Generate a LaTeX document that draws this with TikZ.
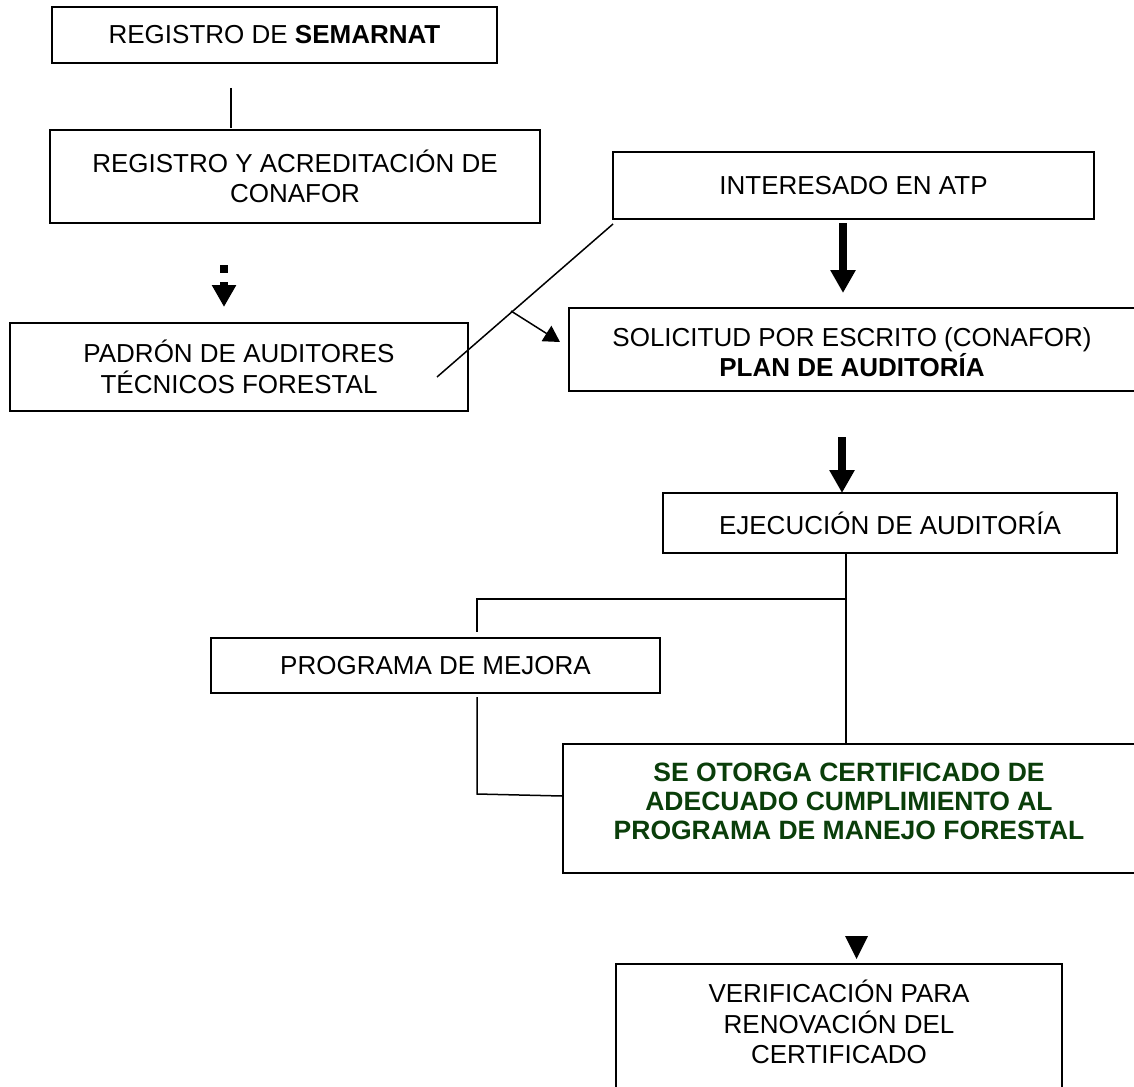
\documentclass[tikz,border=0pt]{standalone}
\usepackage{fontspec}
\setmainfont{Liberation Sans}
\usetikzlibrary{arrows.meta}
\definecolor{dkgreen}{RGB}{10,62,10}
\begin{document}
\begin{tikzpicture}[x=1pt,y=-1pt,
  box/.style={draw, line width=1.6pt, inner sep=0pt, align=center},
  txt/.style={inner sep=0pt, align=center, font=\fontsize{26}{30.5}\selectfont},
  ln/.style={line width=1.5pt},
  bigarrow/.style={line width=8.5pt, -{Triangle[width=24pt,length=23pt]}},
  dasharrow/.style={line width=8pt, dash pattern=on 8pt off 9pt, -{Triangle[width=23pt,length=22pt]}},
  tickarrow/.style={line width=1.5pt, -{Triangle[width=18pt,length=16pt]}}]
\useasboundingbox (0,0) rectangle (1134,1086);
\clip (0,0) rectangle (1134,1086);
\fill[white] (0,0) rectangle (1134,1086);

% boxes
\node[box, txt, minimum width=445pt, minimum height=56pt] (b1) at (274.5,35) {REGISTRO DE \textbf{SEMARNAT}};
\node[box, txt, minimum width=490pt, minimum height=93pt] (b2) at (295,176.5) {REGISTRO Y ACREDITACIÓN DE\\CONAFOR};
\node[box, txt, minimum width=481pt, minimum height=67pt] (b3) at (853.5,185.5) {INTERESADO EN ATP};
\node[box, txt, minimum width=458pt, minimum height=88pt] (b4) at (239,367) {PADRÓN DE AUDITORES\\TÉCNICOS FORESTAL};
\node[box, minimum width=581pt, minimum height=83pt] (b5) at (859.5,349.5) {};
\node[txt] (t5) at (852,352) {SOLICITUD POR ESCRITO (CONAFOR)\\\textbf{PLAN DE AUDITORÍA}};
\node[box, txt, minimum width=454pt, minimum height=60pt] (b6) at (890,523) {EJECUCIÓN DE AUDITORÍA};
\node[box, txt, minimum width=449pt, minimum height=55pt] (b7) at (435.5,665.5) {PROGRAMA DE MEJORA};
\node[box, minimum width=587pt, minimum height=129pt] (b8) at (856.5,808.5) {};
\node[txt, font=\fontsize{26.5}{29}\selectfont\bfseries, text=dkgreen] (t8) at (849,801) {SE OTORGA CERTIFICADO DE\\ADECUADO CUMPLIMIENTO AL\\PROGRAMA DE MANEJO FORESTAL};
\node[box, minimum width=446pt, minimum height=146pt] (b9) at (839,1037) {};
\node[txt] (t9) at (839,1022) {VERIFICACIÓN PARA\\RENOVACIÓN DEL\\CERTIFICADO};

% connector points
\coordinate (c1a) at (231,88);
\coordinate (c1b) at (231,128);
\coordinate (d1) at (224,265);
\coordinate (d2) at (224,307);
\coordinate (g1) at (613,224);
\coordinate (g2) at (437,377);
\coordinate (k1) at (511,311);
\coordinate (k2) at (560,342);
\coordinate (a1a) at (843,223);
\coordinate (a1b) at (843,293);
\coordinate (a2a) at (842,437);
\coordinate (a2b) at (842,493);
\coordinate (e1) at (846,553);
\coordinate (e2) at (846,744);
\coordinate (e3) at (846,599);
\coordinate (m1) at (477,599);
\coordinate (m2) at (477,632);
\coordinate (p1) at (477,697);
\coordinate (p2) at (477,794);
\coordinate (p3) at (b8.west |- 0,796);

% connectors
\draw[ln] (c1a) -- (c1b);
\draw[dasharrow] (d1) -- (d2);
\draw[ln] (g1) -- (g2);
\draw[tickarrow] (k1) -- (k2);
\draw[bigarrow] (a1a) -- (a1b);
\draw[bigarrow] (a2a) -- (a2b);
\draw[ln] (e1) -- (e2);
\draw[ln] (e3) -- (m1) -- (m2);
\draw[ln] (p1) -- (p2) -- (p3);
\fill (845,936) -- (868,936) -- (856.5,959) -- cycle;
\end{tikzpicture}
\end{document}
